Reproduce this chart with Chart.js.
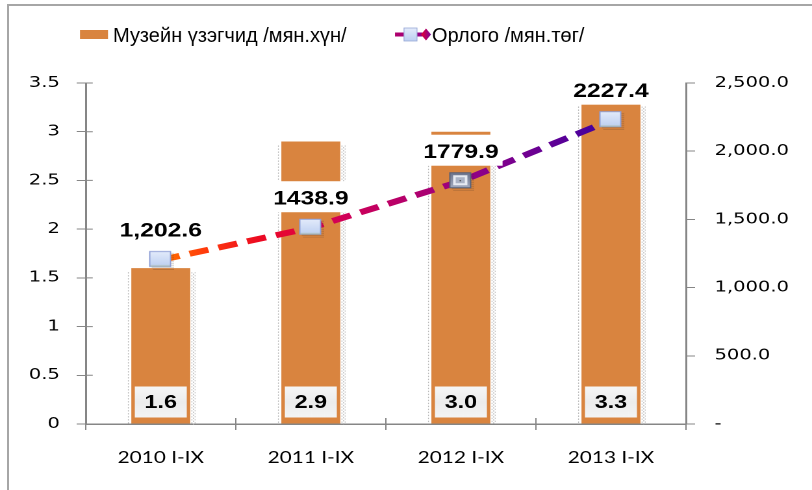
<!DOCTYPE html>
<html><head><meta charset="utf-8">
<script src="https://cdn.jsdelivr.net/npm/chart.js@4.4.0/dist/chart.umd.min.js"></script>
<style>
html,body{margin:0;padding:0;background:#fff;overflow:hidden}
#wrap{position:relative;width:812px;height:490px}
#c{position:absolute;left:0;top:0}
#frame{position:absolute;left:7px;top:4px;right:0;bottom:0;border-left:2px solid #a6a6a6;border-top:2px solid #a6a6a6;pointer-events:none}
</style></head><body>
<div id="wrap"><canvas id="c" width="625" height="490" style="width:812px;height:490px"></canvas><div id="frame"></div></div>
<script>
const categories = ['2010 I-IX', '2011 I-IX', '2012 I-IX', '2013 I-IX'];
const visitors = [1.6, 2.9, 3.0, 3.3];
const revenue = [1202.6, 1438.9, 1779.9, 2227.4];
const revenueLabels = ['1,202.6', '1438.9', '1779.9', '2227.4'];
const leftTickLabels = ['0', '0.5', '1', '1.5', '2', '2.5', '3', '3.5'];
const rightTickLabels = ['-', '500.0', '1,000.0', '1,500.0', '2,000.0', '2,500.0'];
const seriesNames = ['Музейн үзэгчид /мян.хүн/', 'Орлого /мян.төг/'];

const BAR_COLOR = '#d9843f';
const AXIS_COLOR = '#868686';
const STRETCH = 812 / 625;

function makeMarker(dark) {
  const c = document.createElement('canvas');
  c.width = 20; c.height = 20;
  const g = c.getContext('2d');
  g.fillStyle = 'rgba(60,50,40,0.45)';
  for (let yy = 3; yy < 20; yy += 2) for (let xx = 3; xx < 20; xx += 2) {
    if (xx > 15 || yy > 14) g.fillRect(xx + ((yy / 2) % 2), yy, 1, 1);
  }
  if (!dark) {
    const gr = g.createLinearGradient(0, 1, 0, 17);
    gr.addColorStop(0, '#e4ecfb'); gr.addColorStop(1, '#bccff1');
    g.fillStyle = gr; g.fillRect(1, 1, 17, 16);
    g.strokeStyle = '#8f9fd6'; g.lineWidth = 1; g.strokeRect(1.5, 1.5, 16, 15);
    g.fillStyle = '#a9bba8'; g.fillRect(2, 15.5, 15, 1);
  } else {
    const gr = g.createLinearGradient(0, 1, 0, 17);
    gr.addColorStop(0, '#69718a'); gr.addColorStop(1, '#a3abc0');
    g.fillStyle = gr; g.fillRect(1, 1, 17, 16);
    g.fillStyle = '#e6eaf3'; g.fillRect(4, 4, 11, 10);
    g.fillStyle = '#aab2c5'; g.fillRect(6, 6, 7, 6);
    g.fillStyle = '#222'; g.fillRect(9, 9, 1, 1);
    g.strokeStyle = '#5a6176'; g.lineWidth = 1; g.strokeRect(1.5, 1.5, 16, 15);
  }
  return c;
}
const markers = [makeMarker(false), makeMarker(false), makeMarker(true), makeMarker(false)];

function lineGradient(ctx) {
  const ch = ctx.chart;
  if (!ch.chartArea) return '#c0006a';
  const xs = ch.scales.x;
  const x0 = xs.getPixelForValue(0), x1 = xs.getPixelForValue(categories.length - 1);
  const gr = ch.ctx.createLinearGradient(x0, 0, x1, 0);
  gr.addColorStop(0, '#ff7400');
  gr.addColorStop(0.1, '#ff3a0c');
  gr.addColorStop(0.22, '#ec0a22');
  gr.addColorStop(0.36, '#da0050');
  gr.addColorStop(0.55, '#b4006c');
  gr.addColorStop(0.72, '#8a008a');
  gr.addColorStop(1, '#3c00a0');
  return gr;
}

const barShadow = {
  id: 'barShadow',
  beforeDatasetsDraw(chart) {
    const ctx = chart.ctx;
    const meta = chart.getDatasetMeta(0);
    ctx.save();
    ctx.fillStyle = '#b5b5b5';
    meta.data.forEach(el => {
      const p = el.getProps(['x', 'y', 'base', 'width'], true);
      const L = p.x - p.width / 2, R = p.x + p.width / 2;
      for (let yy = p.y + 4; yy < p.base; yy += 3) {
        ctx.fillRect(L - 2.6, yy, 0.7, 1.4);
        ctx.fillRect(R + 0.9, yy, 0.7, 1.4);
        ctx.fillRect(R + 2.2, yy + 1.5, 0.7, 1.4);
        ctx.fillRect(R + 3.4, yy, 0.6, 1.2);
      }
    });
    ctx.restore();
  }
};

const valueLabels = {
  id: 'valueLabels',
  afterDatasetsDraw(chart) {
    const ctx = chart.ctx;
    ctx.save();
    const bm = chart.getDatasetMeta(0);
    ctx.font = 'bold 18px "Liberation Sans", Arial, sans-serif';
    ctx.textAlign = 'center';
    ctx.textBaseline = 'middle';
    bm.data.forEach((el, i) => {
      const p = el.getProps(['x', 'base'], true);
      const w = 40, h = 31;
      const gr = ctx.createLinearGradient(0, p.base - 37, 0, p.base - 6);
      gr.addColorStop(0, '#f6f6f6'); gr.addColorStop(0.5, '#ececec'); gr.addColorStop(1, '#f4f4f4');
      ctx.fillStyle = gr;
      ctx.fillRect(p.x - w / 2, p.base - 6 - h, w, h);
      ctx.fillStyle = '#000';
      ctx.fillText(visitors[i].toFixed(1), p.x, p.base - 20.5);
    });
    const lm = chart.getDatasetMeta(1);
    ctx.font = 'bold 19px "Liberation Sans", Arial, sans-serif';
    lm.data.forEach((el, i) => {
      const p = el.getProps(['x', 'y'], true);
      const txt = revenueLabels[i];
      const tw = ctx.measureText(txt).width;
      ctx.fillStyle = '#fff';
      ctx.fillRect(p.x - tw / 2 - 3, p.y - 31 - 15.5, tw + 6, 31);
      ctx.fillStyle = '#000';
      ctx.fillText(txt, p.x, p.y - 28.5);
    });
    ctx.restore();
  }
};

const crossTicks = {
  id: 'crossTicks',
  afterDraw(chart) {
    const ctx = chart.ctx;
    const ys = chart.scales.y, xs = chart.scales.x;
    const area = chart.chartArea;
    ctx.save();
    ctx.strokeStyle = AXIS_COLOR;
    ctx.lineWidth = 1;
    ctx.beginPath();
    ys.ticks.forEach((t, i) => {
      const py = ys.getPixelForTick(i);
      ctx.moveTo(area.left, py); ctx.lineTo(area.left + 5.4, py);
    });
    for (let i = 0; i <= categories.length; i++) {
      const px = xs.getPixelForValue(i - 0.5);
      ctx.moveTo(px, area.bottom); ctx.lineTo(px, area.bottom - 6);
    }
    ctx.stroke();
    ctx.restore();
  }
};

// legend drawn in screen (unstretched) coordinates
const customLegend = {
  id: 'customLegend',
  afterDraw(chart) {
    const ctx = chart.ctx;
    ctx.save();
    ctx.scale(1 / STRETCH, 1);
    ctx.fillStyle = BAR_COLOR;
    ctx.fillRect(80, 30, 28, 9);
    ctx.font = '20px "Liberation Sans", Arial, sans-serif';
    ctx.textBaseline = 'alphabetic';
    ctx.textAlign = 'left';
    ctx.fillStyle = '#000';
    ctx.fillText(chart.data.datasets[0].label, 113, 42);
    const lg = ctx.createLinearGradient(395, 0, 430, 0);
    lg.addColorStop(0, '#b0006c'); lg.addColorStop(1, '#8a0090');
    ctx.fillStyle = lg;
    ctx.fillRect(395, 32.5, 32, 4);
    const sg = ctx.createLinearGradient(0, 28, 0, 41);
    sg.addColorStop(0, '#e4ecfb'); sg.addColorStop(1, '#bccff1');
    ctx.fillStyle = sg;
    ctx.fillRect(404, 28, 13, 13);
    ctx.strokeStyle = '#9aaad8'; ctx.lineWidth = 0.8;
    ctx.strokeRect(404, 28, 13, 13);
    const dg = ctx.createLinearGradient(421, 0, 431, 0);
    dg.addColorStop(0, '#e8002e'); dg.addColorStop(1, '#7a00a0');
    ctx.fillStyle = dg;
    ctx.beginPath();
    ctx.moveTo(426, 28.5); ctx.lineTo(431, 34.5); ctx.lineTo(426, 40.5); ctx.lineTo(421, 34.5); ctx.closePath();
    ctx.fill();
    ctx.fillStyle = '#000';
    ctx.fillText(chart.data.datasets[1].label, 432, 42);
    ctx.restore();
  }
};

new Chart(document.getElementById('c'), {
  data: {
    labels: categories,
    datasets: [
      {
        type: 'bar', label: seriesNames[0], data: visitors, yAxisID: 'y',
        backgroundColor: BAR_COLOR, barPercentage: 0.393, categoryPercentage: 1, order: 2
      },
      {
        type: 'line', label: seriesNames[1], data: revenue, yAxisID: 'y1',
        borderColor: lineGradient, borderWidth: 6, borderDash: [15, 8], tension: 0,
        pointStyle: markers, pointRadius: 10, fill: false, order: 1
      }
    ]
  },
  options: {
    responsive: false, devicePixelRatio: 2, animation: false,
    layout: { padding: { top: 83, left: 0, right: 0, bottom: 0 } },
    plugins: { legend: { display: false }, tooltip: { enabled: false } },
    scales: {
      x: {
        grid: { drawOnChartArea: false, tickLength: 6, color: AXIS_COLOR, offset: true },
        border: { color: AXIS_COLOR, width: 1.5 },
        ticks: { font: { family: 'Lato, "Open Sans", sans-serif', size: 16 }, color: '#000', padding: 18, maxRotation: 0 },
        afterFit(s) { s.height = 66; }
      },
      y: {
        position: 'left', min: 0, max: 3.5,
        ticks: { stepSize: 0.5, callback: (v, i) => leftTickLabels[i], font: { family: '"DejaVu Sans"', size: 15 }, color: '#000', padding: 13 },
        grid: { drawOnChartArea: false, tickLength: 7, color: AXIS_COLOR },
        border: { color: AXIS_COLOR, width: 1.5 },
        afterFit(s) { s.width = 66; }
      },
      y1: {
        position: 'right', min: 0, max: 2500,
        ticks: { stepSize: 500, callback: (v, i) => rightTickLabels[i], font: { family: '"DejaVu Sans"', size: 15 }, color: '#000', padding: 15 },
        grid: { drawOnChartArea: false, tickLength: 7, color: AXIS_COLOR },
        border: { color: AXIS_COLOR, width: 1.5 },
        afterFit(s) { s.width = 97; }
      }
    }
  },
  plugins: [barShadow, valueLabels, crossTicks, customLegend]
});
</script>
</body></html>
